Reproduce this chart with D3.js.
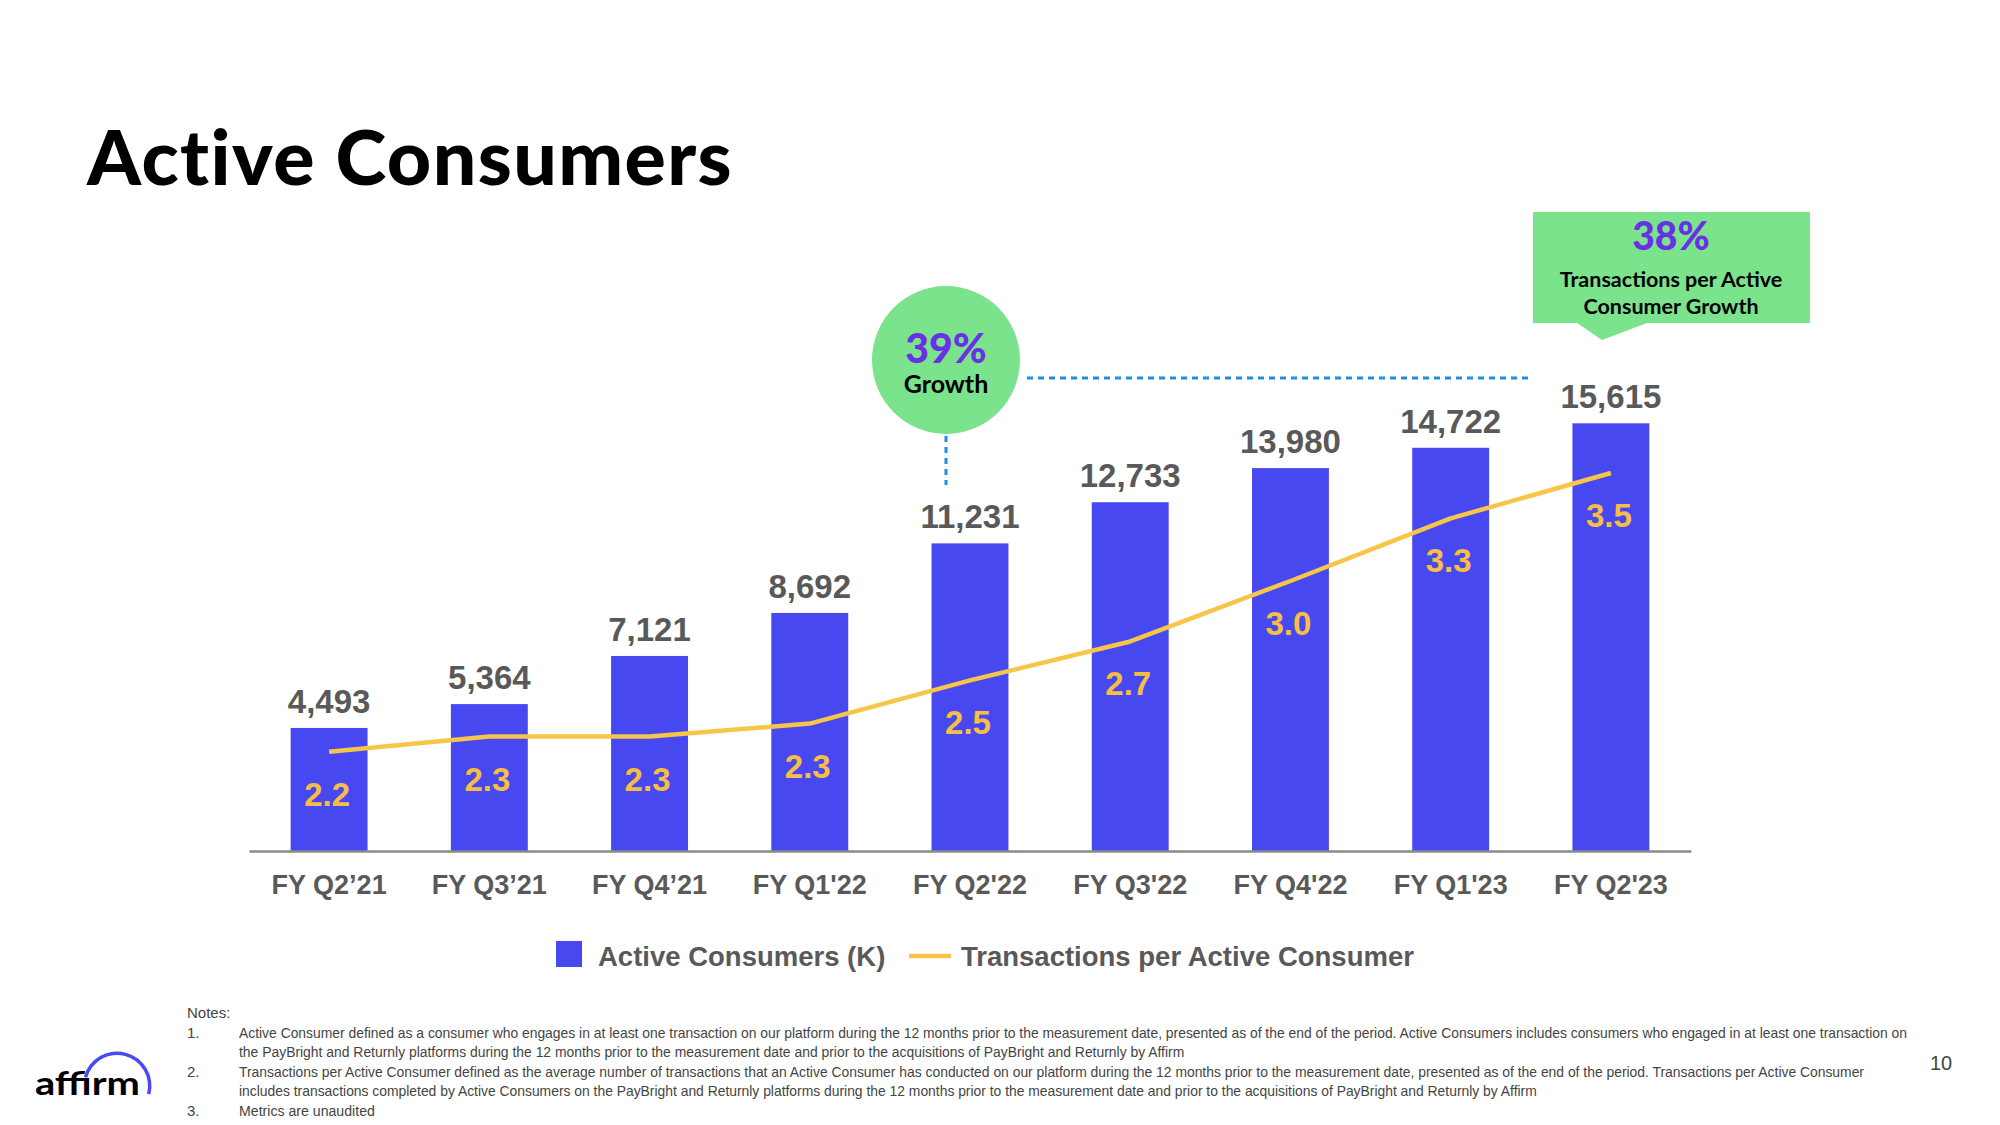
<!DOCTYPE html>
<html>
<head>
<meta charset="utf-8">
<script src="https://cdn.jsdelivr.net/npm/d3@7"></script>
<style>
  html, body { margin: 0; padding: 0; background: #ffffff; }
  svg { display: block; }
</style>
</head>
<body>
<svg id="chart" width="2000" height="1125"></svg>
<script>
// ---- data ----
const categories = ["FY Q2\u201921", "FY Q3\u201921", "FY Q4\u201921", "FY Q1'22", "FY Q2'22", "FY Q3'22", "FY Q4'22", "FY Q1'23", "FY Q2'23"];
const activeConsumers = [4493, 5364, 7121, 8692, 11231, 12733, 13980, 14722, 15615];
const transactionsPerConsumer = [2.21, 2.28, 2.28, 2.34, 2.54, 2.72, 3.0, 3.29, 3.5];
const tpcLabels = ["2.2", "2.3", "2.3", "2.3", "2.5", "2.7", "3.0", "3.3", "3.5"];
const legendLabels = ["Active Consumers (K)", "Transactions per Active Consumer"];
const notes = [
  ["1.", "Active Consumer defined as a consumer who engages in at least one transaction on our platform during the 12 months prior to the measurement date, presented as of the end of the period. Active Consumers includes consumers who engaged in at least one transaction on"],
  ["", "the PayBright and Returnly platforms during the 12 months prior to the measurement date and prior to the acquisitions of PayBright and Returnly by Affirm"],
  ["2.", "Transactions per Active Consumer defined as the average number of transactions that an Active Consumer has conducted on our platform during the 12 months prior to the measurement date, presented as of the end of the period. Transactions per Active Consumer"],
  ["", "includes transactions completed by Active Consumers on the PayBright and Returnly platforms during the 12 months prior to the measurement date and prior to the acquisitions of PayBright and Returnly by Affirm"],
  ["3.", "Metrics are unaudited"]
];
const noteWidths = [1670, 946, 1627, 1299, 136];

// ---- styles ----
const BAR = "#4848F0", LINE = "#F7C548", LABEL_GOLD = "#F6BE45", GRAY = "#595959";
const GREEN = "#7AE38B", PURPLE = "#6A30E6", DASH = "#1A8FE3";
const SANS = "'Liberation Sans', Arial, sans-serif";
const GEO = "Lato, 'Open Sans', sans-serif";

const svg = d3.select("#chart");

// title
svg.append("text").attr("x", 87).attr("y", 185)
  .attr("font-family", GEO).attr("font-weight", 900).attr("font-size", 77)
  .attr("letter-spacing", 1.4)
  .attr("fill", "#000").text("Active Consumers");

// scales
const x = d3.scaleBand().domain(categories).range([249, 1691]).paddingInner(0.52).paddingOuter(0.26);
const y = d3.scaleLinear().domain([0, 18000]).range([851, 358]);
const y2 = d3.scaleLinear().domain([1.75, 3.75]).range([851, 419]);

// bars
svg.append("g").selectAll("rect").data(activeConsumers).join("rect")
  .attr("x", (d, i) => x(categories[i]))
  .attr("y", d => y(d))
  .attr("width", x.bandwidth())
  .attr("height", d => y(0) - y(d))
  .attr("fill", BAR);

// bar value labels
svg.append("g").selectAll("text").data(activeConsumers).join("text")
  .attr("x", (d, i) => x(categories[i]) + x.bandwidth() / 2)
  .attr("y", d => y(d) - 15)
  .attr("text-anchor", "middle")
  .attr("font-family", SANS).attr("font-weight", 700).attr("font-size", 33)
  .attr("fill", GRAY)
  .text(d => d3.format(",")(d));

// x axis
const xAxis = svg.append("g").attr("transform", "translate(0,851)")
  .call(d3.axisBottom(x).tickSize(0).tickPadding(24));
xAxis.select(".domain").attr("stroke", "#8a8a8a").attr("stroke-width", 2.5);
xAxis.selectAll("text")
  .attr("font-family", SANS).attr("font-weight", 700).attr("font-size", 27)
  .attr("fill", GRAY).attr("dy", "0.71em");

// line
const line = d3.line()
  .x((d, i) => x(categories[i]) + x.bandwidth() / 2)
  .y(d => y2(d));
svg.append("path").datum(transactionsPerConsumer)
  .attr("d", line).attr("fill", "none")
  .attr("stroke", LINE).attr("stroke-width", 4.5).attr("stroke-linejoin", "round");

// line labels
svg.append("g").selectAll("text").data(transactionsPerConsumer).join("text")
  .attr("x", (d, i) => x(categories[i]) + x.bandwidth() / 2 - 2)
  .attr("y", d => y2(d) + 54)
  .attr("text-anchor", "middle")
  .attr("font-family", SANS).attr("font-weight", 700).attr("font-size", 33)
  .attr("fill", LABEL_GOLD)
  .text((d, i) => tpcLabels[i]);

// legend
const lg = svg.append("g");
lg.append("rect").attr("x", 556).attr("y", 941).attr("width", 26).attr("height", 26).attr("fill", BAR);
lg.append("text").attr("x", 598).attr("y", 966)
  .attr("font-family", SANS).attr("font-weight", 700).attr("font-size", 27.5)
  .attr("fill", GRAY).text(legendLabels[0]);
lg.append("line").attr("x1", 909).attr("x2", 951).attr("y1", 956).attr("y2", 956)
  .attr("stroke", LINE).attr("stroke-width", 4.5);
lg.append("text").attr("x", 961).attr("y", 966)
  .attr("font-family", SANS).attr("font-weight", 700).attr("font-size", 27.5)
  .attr("fill", GRAY).text(legendLabels[1]);

// growth circle annotation
const ann = svg.append("g");
ann.append("line").attr("x1", 1027).attr("x2", 1531).attr("y1", 378).attr("y2", 378)
  .attr("stroke", DASH).attr("stroke-width", 3).attr("stroke-dasharray", "6,5");
ann.append("line").attr("x1", 946).attr("x2", 946).attr("y1", 436).attr("y2", 485)
  .attr("stroke", DASH).attr("stroke-width", 3).attr("stroke-dasharray", "6,5");
ann.append("circle").attr("cx", 946).attr("cy", 360).attr("r", 74).attr("fill", GREEN);
ann.append("text").attr("x", 946).attr("y", 363).attr("text-anchor", "middle")
  .attr("font-family", GEO).attr("font-weight", 900).attr("font-size", 41)
  .attr("fill", PURPLE).text("39%");
ann.append("text").attr("x", 946).attr("y", 393).attr("text-anchor", "middle")
  .attr("font-family", GEO).attr("font-weight", 700).attr("font-size", 25)
  .attr("fill", "#000").text("Growth");

// green callout box
ann.append("path")
  .attr("d", "M1533,212 L1810,212 L1810,323 L1647,323 L1602,340 L1577,323 L1533,323 Z")
  .attr("fill", GREEN);
ann.append("text").attr("x", 1671).attr("y", 250).attr("text-anchor", "middle")
  .attr("font-family", GEO).attr("font-weight", 900).attr("font-size", 39)
  .attr("fill", PURPLE).text("38%");
ann.append("text").attr("x", 1671).attr("y", 287).attr("text-anchor", "middle")
  .attr("font-family", GEO).attr("font-weight", 700).attr("font-size", 21.5)
  .attr("fill", "#000").text("Transactions per Active");
ann.append("text").attr("x", 1671).attr("y", 314).attr("text-anchor", "middle")
  .attr("font-family", GEO).attr("font-weight", 700).attr("font-size", 21.5)
  .attr("fill", "#000").text("Consumer Growth");

// notes (condensed by horizontal scaling so bounding boxes stay true)
const ng = svg.append("g").attr("font-family", SANS).attr("font-size", 15).attr("fill", "#444");
ng.append("text").attr("x", 187).attr("y", 1018).text("Notes:");
notes.forEach((n, i) => {
  const yy = 1038 + i * 19.4;
  if (n[0]) ng.append("text").attr("x", 187).attr("y", yy).text(n[0]);
  const t = ng.append("text").attr("x", 0).attr("y", 0).text(n[1]);
  const natural = t.node().getComputedTextLength();
  const sx = noteWidths[i] / natural;
  t.attr("transform", `translate(239,${yy}) scale(${sx},1)`);
});

// page number
svg.append("text").attr("x", 1941).attr("y", 1070).attr("text-anchor", "middle")
  .attr("font-family", SANS).attr("font-size", 20).attr("fill", "#444").text("10");

// logo
const logo = svg.append("g");
logo.append("text").attr("x", 35).attr("y", 1095)
  .attr("font-family", GEO).attr("font-weight", 700).attr("font-size", 32)
  .attr("textLength", 105).attr("lengthAdjust", "spacingAndGlyphs")
  .attr("fill", "#000").text("affirm");
const arc = d3.arc().innerRadius(31).outerRadius(34.5)
  .startAngle(-1.3).endAngle(Math.PI * 0.58);
logo.append("path").attr("transform", "translate(117,1086)").attr("d", arc()).attr("fill", "#4A4AF4");
</script>
</body>
</html>
